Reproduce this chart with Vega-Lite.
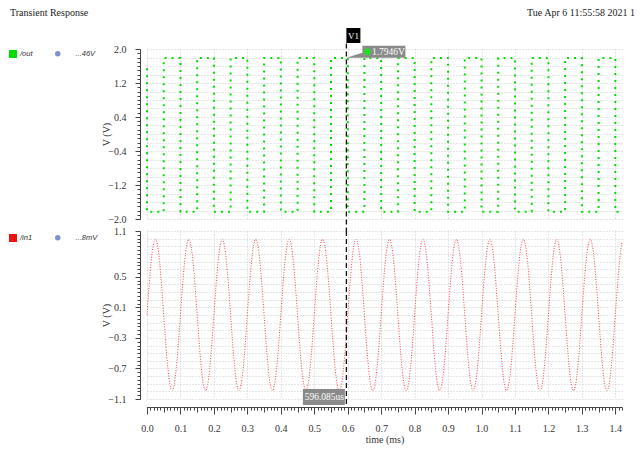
{
  "$schema": "https://vega.github.io/schema/vega-lite/v6.json",
  "background": "white",
  "padding": {"left": 9, "top": 8, "right": 6, "bottom": 4},
  "title": {"text": "Transient Response", "anchor": "start", "frame": "bounds", "orient": "top", "offset": 0, "dx": 1, "dy": 10, "font": "Liberation Serif", "fontSize": 10, "fontWeight": "normal", "color": "#222"},
  "datasets": {
    "out": [
      {"i":0,"t":0,"v":1.55},{"i":1,"t":0,"v":-1.83},
      {"i":2,"t":0.05,"v":-1.83},{"i":3,"t":0.05,"v":1.79},
      {"i":4,"t":0.1,"v":1.79},{"i":5,"t":0.1,"v":-1.83},
      {"i":6,"t":0.15,"v":-1.83},{"i":7,"t":0.15,"v":1.79},
      {"i":8,"t":0.2,"v":1.79},{"i":9,"t":0.2,"v":-1.83},
      {"i":10,"t":0.25,"v":-1.83},{"i":11,"t":0.25,"v":1.79},
      {"i":12,"t":0.3,"v":1.79},{"i":13,"t":0.3,"v":-1.83},
      {"i":14,"t":0.35,"v":-1.83},{"i":15,"t":0.35,"v":1.79},
      {"i":16,"t":0.4,"v":1.79},{"i":17,"t":0.4,"v":-1.83},
      {"i":18,"t":0.45,"v":-1.83},{"i":19,"t":0.45,"v":1.79},
      {"i":20,"t":0.5,"v":1.79},{"i":21,"t":0.5,"v":-1.83},
      {"i":22,"t":0.55,"v":-1.83},{"i":23,"t":0.55,"v":1.79},
      {"i":24,"t":0.6,"v":1.79},{"i":25,"t":0.6,"v":-1.83},
      {"i":26,"t":0.65,"v":-1.83},{"i":27,"t":0.65,"v":1.79},
      {"i":28,"t":0.7,"v":1.79},{"i":29,"t":0.7,"v":-1.83},
      {"i":30,"t":0.75,"v":-1.83},{"i":31,"t":0.75,"v":1.79},
      {"i":32,"t":0.8,"v":1.79},{"i":33,"t":0.8,"v":-1.83},
      {"i":34,"t":0.85,"v":-1.83},{"i":35,"t":0.85,"v":1.79},
      {"i":36,"t":0.9,"v":1.79},{"i":37,"t":0.9,"v":-1.83},
      {"i":38,"t":0.95,"v":-1.83},{"i":39,"t":0.95,"v":1.79},
      {"i":40,"t":1.0,"v":1.79},{"i":41,"t":1.0,"v":-1.83},
      {"i":42,"t":1.05,"v":-1.83},{"i":43,"t":1.05,"v":1.79},
      {"i":44,"t":1.1,"v":1.79},{"i":45,"t":1.1,"v":-1.83},
      {"i":46,"t":1.15,"v":-1.83},{"i":47,"t":1.15,"v":1.79},
      {"i":48,"t":1.2,"v":1.79},{"i":49,"t":1.2,"v":-1.83},
      {"i":50,"t":1.25,"v":-1.83},{"i":51,"t":1.25,"v":1.79},
      {"i":52,"t":1.3,"v":1.79},{"i":53,"t":1.3,"v":-1.83},
      {"i":54,"t":1.35,"v":-1.83},{"i":55,"t":1.35,"v":1.79},
      {"i":56,"t":1.4,"v":1.79},{"i":57,"t":1.4,"v":-1.83},
      {"i":58,"t":1.42,"v":-1.83}
    ],
    "in1": [
      {"t":0,"v":0},{"t":0.0125,"v":0.7},{"t":0.025,"v":0.99},{"t":0.0375,"v":0.7},{"t":0.05,"v":0},{"t":0.0625,"v":-0.7},{"t":0.075,"v":-0.99},{"t":0.0875,"v":-0.7},
      {"t":0.1,"v":0},{"t":0.1125,"v":0.7},{"t":0.125,"v":0.99},{"t":0.1375,"v":0.7},{"t":0.15,"v":0},{"t":0.1625,"v":-0.7},{"t":0.175,"v":-0.99},{"t":0.1875,"v":-0.7},
      {"t":0.2,"v":0},{"t":0.2125,"v":0.7},{"t":0.225,"v":0.99},{"t":0.2375,"v":0.7},{"t":0.25,"v":0},{"t":0.2625,"v":-0.7},{"t":0.275,"v":-0.99},{"t":0.2875,"v":-0.7},
      {"t":0.3,"v":0},{"t":0.3125,"v":0.7},{"t":0.325,"v":0.99},{"t":0.3375,"v":0.7},{"t":0.35,"v":0},{"t":0.3625,"v":-0.7},{"t":0.375,"v":-0.99},{"t":0.3875,"v":-0.7},
      {"t":0.4,"v":0},{"t":0.4125,"v":0.7},{"t":0.425,"v":0.99},{"t":0.4375,"v":0.7},{"t":0.45,"v":0},{"t":0.4625,"v":-0.7},{"t":0.475,"v":-0.99},{"t":0.4875,"v":-0.7},
      {"t":0.5,"v":0},{"t":0.5125,"v":0.7},{"t":0.525,"v":0.99},{"t":0.5375,"v":0.7},{"t":0.55,"v":0},{"t":0.5625,"v":-0.7},{"t":0.575,"v":-0.99},{"t":0.5875,"v":-0.7},
      {"t":0.6,"v":0},{"t":0.6125,"v":0.7},{"t":0.625,"v":0.99},{"t":0.6375,"v":0.7},{"t":0.65,"v":0},{"t":0.6625,"v":-0.7},{"t":0.675,"v":-0.99},{"t":0.6875,"v":-0.7},
      {"t":0.7,"v":0},{"t":0.7125,"v":0.7},{"t":0.725,"v":0.99},{"t":0.7375,"v":0.7},{"t":0.75,"v":0},{"t":0.7625,"v":-0.7},{"t":0.775,"v":-0.99},{"t":0.7875,"v":-0.7},
      {"t":0.8,"v":0},{"t":0.8125,"v":0.7},{"t":0.825,"v":0.99},{"t":0.8375,"v":0.7},{"t":0.85,"v":0},{"t":0.8625,"v":-0.7},{"t":0.875,"v":-0.99},{"t":0.8875,"v":-0.7},
      {"t":0.9,"v":0},{"t":0.9125,"v":0.7},{"t":0.925,"v":0.99},{"t":0.9375,"v":0.7},{"t":0.95,"v":0},{"t":0.9625,"v":-0.7},{"t":0.975,"v":-0.99},{"t":0.9875,"v":-0.7},
      {"t":1.0,"v":0},{"t":1.0125,"v":0.7},{"t":1.025,"v":0.99},{"t":1.0375,"v":0.7},{"t":1.05,"v":0},{"t":1.0625,"v":-0.7},{"t":1.075,"v":-0.99},{"t":1.0875,"v":-0.7},
      {"t":1.1,"v":0},{"t":1.1125,"v":0.7},{"t":1.125,"v":0.99},{"t":1.1375,"v":0.7},{"t":1.15,"v":0},{"t":1.1625,"v":-0.7},{"t":1.175,"v":-0.99},{"t":1.1875,"v":-0.7},
      {"t":1.2,"v":0},{"t":1.2125,"v":0.7},{"t":1.225,"v":0.99},{"t":1.2375,"v":0.7},{"t":1.25,"v":0},{"t":1.2625,"v":-0.7},{"t":1.275,"v":-0.99},{"t":1.2875,"v":-0.7},
      {"t":1.3,"v":0},{"t":1.3125,"v":0.7},{"t":1.325,"v":0.99},{"t":1.3375,"v":0.7},{"t":1.35,"v":0},{"t":1.3625,"v":-0.7},{"t":1.375,"v":-0.99},{"t":1.3875,"v":-0.7},
      {"t":1.4,"v":0},{"t":1.4125,"v":0.7},{"t":1.42,"v":0.95}
    ],
    "cursor": [
      {"t": 0.596085, "v": 1.7946, "vl": "1.7946V", "tl": "596.085us", "name": "V1"}
    ]
  },
  "bounds": "flush",
  "spacing": 12,
  "resolve": {
    "scale": {"x": "independent", "y": "independent", "color": "independent", "shape": "independent"},
    "legend": {"color": "independent", "shape": "independent"},
    "axis": {"x": "independent", "y": "independent"}
  },
  "vconcat": [
    {
      "width": 475,
      "height": 170,
      "title": {"text": "Tue Apr 6 11:55:58 2021  1", "anchor": "end", "frame": "group", "orient": "top", "offset": 10, "dx": 13, "font": "Liberation Serif", "fontSize": 10, "fontWeight": "normal", "color": "#222"},
      "resolve": {"axis": {"x": "independent", "y": "independent"}},
      "layer": [
        {
          "data": {"name": "out"},
          "mark": {"type": "line", "strokeWidth": 2, "strokeDash": [2, 5]},
          "encoding": {
            "x": {"field": "t", "type": "quantitative", "scale": {"domain": [0, 1.42], "nice": false, "zero": false},
                  "axis": {"orient": "bottom", "values": [0,0.1,0.2,0.3,0.4,0.5,0.6,0.7,0.8,0.9,1.0,1.1,1.2,1.3,1.4], "grid": true, "labels": false, "ticks": false, "domain": false, "title": null}},
            "y": {"field": "v", "type": "quantitative", "scale": {"domain": [-2, 2], "nice": false, "zero": false},
                  "axis": {"orient": "left", "values": [-2,-1.2,-0.4,0.4,1.2,2], "format": ".1f", "offset": 7, "tickSize": 5, "labelPadding": 9, "labelFlush": false, "grid": false, "title": "V (V)", "titlePadding": -4}},
            "color": {"datum": "/out", "type": "nominal", "scale": {"domain": ["/out"], "range": ["#00dd00"]},
                      "legend": {"orient": "none", "legendX": -138, "legendY": 1, "title": null, "symbolType": "square", "symbolSize": 64, "labelOffset": 3,
                                 "encode": {"symbols": {"update": {"fill": {"value": "#00dd00"}, "stroke": {"value": "#00dd00"}, "strokeDash": {"value": [1, 0]}, "strokeWidth": {"value": 0}, "opacity": {"value": 1}}}}}},
            "order": {"field": "i", "type": "quantitative"}
          }
        },
        {
          "data": {"name": "cursor"},
          "mark": {"type": "rule", "color": "#111", "strokeWidth": 1.3, "strokeDash": [5, 3]},
          "encoding": {
            "x": {"field": "t", "type": "quantitative", "axis": null},
            "y": {"datum": 2.13, "type": "quantitative", "axis": {"orient": "left", "tickCount": 40, "offset": 7, "tickSize": 3, "labels": false, "domain": false, "grid": false, "title": null}},
            "y2": {"datum": -2.3}
          }
        },
        {
          "data": {"name": "cursor"},
          "mark": {"type": "point", "shape": "M0,0 L1.6,-0.5 L1.6,-1.2 L5.9,-1.2 L5.9,0 L1.6,0 Z", "size": 400, "filled": true, "color": "#8a8a8a", "opacity": 1, "strokeWidth": 0},
          "encoding": {
            "x": {"field": "t", "type": "quantitative", "axis": null},
            "y": {"field": "v", "type": "quantitative", "axis": {"orient": "left", "tickCount": 20, "grid": true, "labels": false, "ticks": false, "domain": false, "title": null}}
          }
        },
        {
          "data": {"name": "cursor"},
          "mark": {"type": "point", "filled": true, "size": 45, "color": "#22dd22", "opacity": 1, "xOffset": 21, "yOffset": -6},
          "encoding": {
            "x": {"field": "t", "type": "quantitative", "axis": null},
            "y": {"field": "v", "type": "quantitative", "axis": null}
          }
        },
        {
          "data": {"name": "cursor"},
          "mark": {"type": "point", "filled": true, "size": 30, "color": "#7f92cc", "opacity": 0},
          "encoding": {
            "x": {"field": "t", "type": "quantitative", "axis": null},
            "y": {"field": "v", "type": "quantitative", "axis": null},
            "shape": {"datum": "...46V", "type": "nominal", "scale": {"domain": ["...46V"], "range": ["circle"]},
                      "legend": {"orient": "none", "legendX": -93, "legendY": 1, "title": null, "symbolSize": 30, "labelOffset": 14, "symbolFillColor": "#7f92cc", "symbolStrokeColor": "#c3cbe8", "symbolOpacity": 1}}
          }
        },
        {
          "data": {"name": "cursor"},
          "mark": {"type": "text", "color": "white", "font": "Liberation Serif", "fontSize": 9.5, "dx": 42, "dy": -6, "align": "center", "baseline": "middle"},
          "encoding": {
            "x": {"field": "t", "type": "quantitative", "axis": null},
            "y": {"field": "v", "type": "quantitative", "axis": null},
            "text": {"field": "vl"}
          }
        },
        {
          "data": {"name": "cursor"},
          "mark": {"type": "point", "shape": "M0,-2.1 L1.4,-2.1 L1.4,-0.6 L0,-0.6 Z", "size": 400, "filled": true, "color": "#000", "opacity": 1, "strokeWidth": 0},
          "encoding": {
            "x": {"field": "t", "type": "quantitative", "axis": null},
            "y": {"datum": 2, "type": "quantitative", "axis": null}
          }
        },
        {
          "data": {"name": "cursor"},
          "mark": {"type": "text", "color": "white", "font": "Liberation Serif", "fontSize": 9, "dx": 7, "dy": -13.5, "align": "center", "baseline": "middle"},
          "encoding": {
            "x": {"field": "t", "type": "quantitative", "axis": null},
            "y": {"datum": 2, "type": "quantitative", "axis": null},
            "text": {"field": "name"}
          }
        }
      ]
    },
    {
      "width": 475,
      "height": 168,
      "resolve": {"axis": {"x": "independent", "y": "independent"}},
      "layer": [
        {
          "data": {"name": "in1"},
          "mark": {"type": "line", "interpolate": "natural", "strokeWidth": 1, "strokeDash": [1, 1.6]},
          "encoding": {
            "x": {"field": "t", "type": "quantitative", "scale": {"domain": [0, 1.42], "nice": false, "zero": false},
                  "axis": {"orient": "bottom", "values": [0,0.1,0.2,0.3,0.4,0.5,0.6,0.7,0.8,0.9,1.0,1.1,1.2,1.3,1.4], "format": ".1f", "offset": 8, "tickSize": 7, "labelPadding": 9, "labelFlush": false, "grid": false, "title": "time (ms)", "titlePadding": 1}},
            "y": {"field": "v", "type": "quantitative", "scale": {"domain": [-1.1, 1.1], "nice": false, "zero": false},
                  "axis": {"orient": "left", "values": [-1.1,-0.7,-0.3,0.1,0.5,1.1], "format": ".1f", "offset": 7, "tickSize": 5, "labelPadding": 9, "labelFlush": false, "grid": false, "title": "V (V)", "titlePadding": -4}},
            "color": {"datum": "/in1", "type": "nominal", "scale": {"domain": ["/in1"], "range": ["#ff4040"]},
                      "legend": {"orient": "none", "legendX": -138, "legendY": 3, "title": null, "symbolType": "square", "symbolSize": 64, "labelOffset": 3,
                                 "encode": {"symbols": {"update": {"fill": {"value": "#ee1111"}, "stroke": {"value": "#ee1111"}, "strokeDash": {"value": [1, 0]}, "strokeWidth": {"value": 0}, "opacity": {"value": 1}}}}}}
          }
        },
        {
          "data": {"name": "cursor"},
          "mark": {"type": "rule", "color": "#111", "strokeWidth": 1.3, "strokeDash": [5, 3]},
          "encoding": {
            "x": {"field": "t", "type": "quantitative", "axis": {"orient": "bottom", "tickCount": 140, "offset": 8, "tickSize": 3, "labels": false, "domain": false, "grid": false, "title": null}},
            "y": {"datum": 1.1, "type": "quantitative", "axis": {"orient": "left", "tickCount": 44, "offset": 7, "tickSize": 3, "labels": false, "domain": false, "grid": false, "title": null}},
            "y2": {"datum": -1.17}
          }
        },
        {
          "data": {"name": "cursor"},
          "mark": {"type": "point", "shape": "M-4.35,-1.0 L-0.15,-1.0 L-0.15,0.6 L-4.35,0.6 Z", "size": 400, "filled": true, "color": "#8a8a8a", "opacity": 1, "strokeWidth": 0},
          "encoding": {
            "x": {"field": "t", "type": "quantitative", "axis": {"orient": "bottom", "tickCount": 28, "offset": 8, "tickSize": 5, "labels": false, "domain": false, "grid": false, "title": null}},
            "y": {"datum": -1.1, "type": "quantitative", "axis": {"orient": "left", "tickCount": 22, "grid": true, "labels": false, "ticks": false, "domain": false, "title": null}}
          }
        },
        {
          "data": {"name": "cursor"},
          "mark": {"type": "text", "color": "white", "font": "Liberation Serif", "fontSize": 9.5, "dx": -22, "dy": -2, "align": "center", "baseline": "middle"},
          "encoding": {
            "x": {"field": "t", "type": "quantitative", "axis": {"orient": "bottom", "values": [0,0.1,0.2,0.3,0.4,0.5,0.6,0.7,0.8,0.9,1.0,1.1,1.2,1.3,1.4], "grid": true, "labels": false, "ticks": false, "domain": false, "title": null}},
            "y": {"datum": -1.1, "type": "quantitative", "axis": null},
            "text": {"field": "tl"}
          }
        },
        {
          "data": {"name": "cursor"},
          "mark": {"type": "point", "filled": true, "size": 30, "color": "#7f92cc", "opacity": 0},
          "encoding": {
            "x": {"field": "t", "type": "quantitative", "axis": null},
            "y": {"datum": 0, "type": "quantitative", "axis": null},
            "shape": {"datum": "...8mV", "type": "nominal", "scale": {"domain": ["...8mV"], "range": ["circle"]},
                      "legend": {"orient": "none", "legendX": -93, "legendY": 3, "title": null, "symbolSize": 30, "labelOffset": 14, "symbolFillColor": "#7f92cc", "symbolStrokeColor": "#c3cbe8", "symbolOpacity": 1}}
          }
        }
      ]
    }
  ],
  "config": {
    "view": {"stroke": null},
    "axis": {"labelFont": "Liberation Serif", "labelFontSize": 10, "labelColor": "#333", "titleFont": "Liberation Serif", "titleFontSize": 10, "titleFontWeight": "normal", "titleColor": "#333", "domainColor": "#444", "tickColor": "#444", "gridColor": "#cccccc", "gridDash": [1, 2]},
    "legend": {"labelFont": "Liberation Sans", "labelFontSize": 7.5, "labelFontStyle": "italic", "labelColor": "#333", "padding": 0}
  }
}
